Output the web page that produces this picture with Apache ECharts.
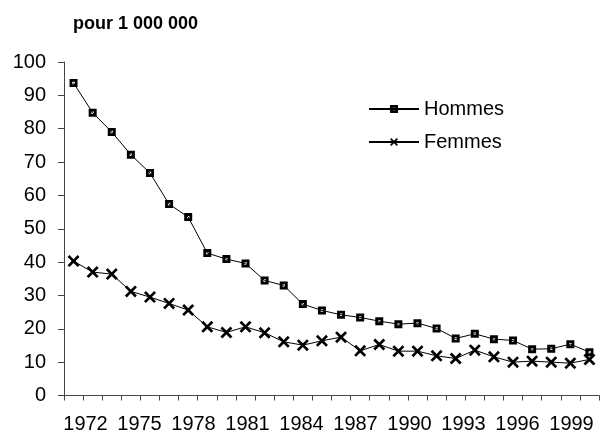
<!DOCTYPE html>
<html>
<head>
<meta charset="utf-8">
<title>pour 1 000 000</title>
<script src="https://cdn.jsdelivr.net/npm/echarts@6/dist/echarts.min.js"></script>
<style>
  html, body { margin: 0; padding: 0; background: #fff; }
  #chart { width: 600px; height: 437px; }
</style>
</head>
<body>
<div id="chart"></div>
<script>
// années 1972 - 1999
var years = [];
for (var y = 1972; y <= 1999; y++) years.push(String(y));

var hommes = [93.7, 84.8, 79.0, 72.2, 66.7, 57.4, 53.5, 42.7, 40.9, 39.6,
              34.5, 33.0, 27.4, 25.5, 24.2, 23.4, 22.3, 21.4, 21.7, 20.1,
              17.1, 18.5, 16.9, 16.5, 13.9, 14.0, 15.4, 13.0];
var femmes = [40.3, 37.0, 36.4, 31.2, 29.5, 27.6, 25.6, 20.6, 18.9, 20.6,
              18.8, 16.1, 15.1, 16.4, 17.5, 13.4, 15.3, 13.3, 13.3, 11.9,
              11.1, 13.6, 11.6, 10.0, 10.3, 10.0, 9.7, 10.8];
var yTicks = [0, 10, 20, 30, 40, 50, 60, 70, 80, 90, 100];

var font = "'Liberation Sans', Arial, sans-serif";
var squareSym = 'path://M0,0H10V10H0Z M3.5,3.5V6.5H6.5V3.5Z';
var crossSym = 'path://M0,1.6L1.6,0L5,3.4L8.4,0L10,1.6L6.6,5L10,8.4L8.4,10L5,6.6L1.6,10L0,8.4L3.4,5Z';

var chart = echarts.init(document.getElementById('chart'));
chart.setOption({
  animation: false,
  title: {
    text: 'pour 1 000 000',
    left: 68, top: 10,
    textStyle: { fontFamily: font, fontSize: 18, fontWeight: 'bold', color: '#000' }
  },
  legend: {
    orient: 'vertical',
    left: 363, top: 94,
    itemWidth: 50, itemHeight: 10, itemGap: 13,
    textStyle: { fontFamily: font, fontSize: 20, color: '#000' },
    data: ['Hommes', 'Femmes']
  },
  grid: [
    { left: 64, right: 1, top: 62, bottom: 41.5 },
    // grille pour les libellés des années (espacement comme l'original)
    { left: 76.5, right: 19.5, top: 62, bottom: 41.5 }
  ],
  xAxis: [{
    type: 'category',
    gridIndex: 0,
    data: years,
    boundaryGap: true,
    axisLine: { lineStyle: { color: '#444', width: 1 } },
    axisTick: { show: true, interval: 0, length: 5, lineStyle: { color: '#444' } },
    axisLabel: { show: false }
  }, {
    type: 'category',
    gridIndex: 1,
    data: years,
    boundaryGap: true,
    axisLine: { show: false },
    axisTick: { show: false },
    axisLabel: { interval: 2, margin: 19, fontFamily: font, fontSize: 20, color: '#000' }
  }],
  yAxis: [{
    type: 'value',
    gridIndex: 0,
    min: yTicks[0], max: yTicks[yTicks.length - 1], interval: 10,
    splitLine: { show: false },
    axisLine: { show: true, lineStyle: { color: '#444', width: 1 } },
    axisTick: { show: true, length: 6, lineStyle: { color: '#444' } },
    axisLabel: { margin: 18, fontFamily: font, fontSize: 20, color: '#000' }
  }, {
    type: 'value',
    gridIndex: 1,
    show: false,
    min: 0, max: 100
  }],
  series: [{
    name: 'Hommes',
    type: 'line',
    data: hommes,
    symbol: squareSym,
    symbolSize: 8,
    showAllSymbol: true,
    itemStyle: { color: '#000' },
    lineStyle: { color: '#000', width: 1 }
  }, {
    name: 'Femmes',
    type: 'line',
    data: femmes,
    symbol: crossSym,
    symbolSize: 12,
    showAllSymbol: true,
    itemStyle: { color: '#000' },
    lineStyle: { color: '#000', width: 1 }
  }]
});
</script>
</body>
</html>
